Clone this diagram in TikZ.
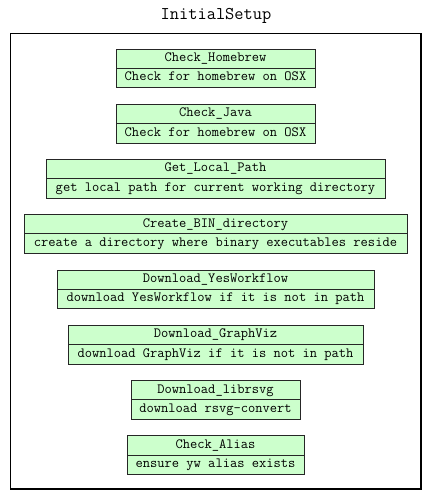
\documentclass[tikz,border=0pt]{standalone}
\usepackage{fontspec}
\begin{document}
\begin{tikzpicture}[x=1pt,y=-1pt,
  cell/.style={draw=black!85, fill=green!20, line width=0.7pt, inner sep=0pt, outer sep=0pt,
    minimum height=19.3pt, text height=0.6em, text depth=0pt,
    font=\ttfamily\fontsize{14.1}{14}\selectfont},
  frame/.style={draw=black, line width=1.6pt}]
\useasboundingbox (0,0) rectangle (432,500);
\node[font=\ttfamily\fontsize{17.9}{18}\selectfont] (title) at (216,16) {InitialSetup};
\draw[frame] (10.5,33.5) rectangle (421,489);
% boxes
\node[cell, minimum width=199pt, anchor=north] (h1) at (215.5,49) {Check\_Homebrew};
\node[cell, minimum width=199pt, anchor=north] (d1) at (h1.south) {Check for homebrew on OSX};
\node[cell, minimum width=199pt, anchor=north] (h2) at (215.5,104.3) {Check\_Java};
\node[cell, minimum width=199pt, anchor=north] (d2) at (h2.south) {Check for homebrew on OSX};
\node[cell, minimum width=339pt, anchor=north] (h3) at (215.5,159.3) {Get\_Local\_Path};
\node[cell, minimum width=339pt, anchor=north] (d3) at (h3.south) {get local path for current working directory};
\node[cell, minimum width=383pt, anchor=north] (h4) at (215.5,214.5) {Create\_BIN\_directory};
\node[cell, minimum width=383pt, anchor=north] (d4) at (h4.south) {create a directory where binary executables reside};
\node[cell, minimum width=317pt, anchor=north] (h5) at (215.5,270) {Download\_YesWorkflow};
\node[cell, minimum width=317pt, anchor=north] (d5) at (h5.south) {download YesWorkflow if it is not in path};
\node[cell, minimum width=295pt, anchor=north] (h6) at (215.5,325.3) {Download\_GraphViz};
\node[cell, minimum width=295pt, anchor=north] (d6) at (h6.south) {download GraphViz if it is not in path};
\node[cell, minimum width=169pt, anchor=north] (h7) at (215.5,380.5) {Download\_librsvg};
\node[cell, minimum width=169pt, anchor=north] (d7) at (h7.south) {download rsvg-convert};
\node[cell, minimum width=177pt, anchor=north] (h8) at (215.5,435.8) {Check\_Alias};
\node[cell, minimum width=177pt, anchor=north] (d8) at (h8.south) {ensure yw alias exists};
\end{tikzpicture}
\end{document}
